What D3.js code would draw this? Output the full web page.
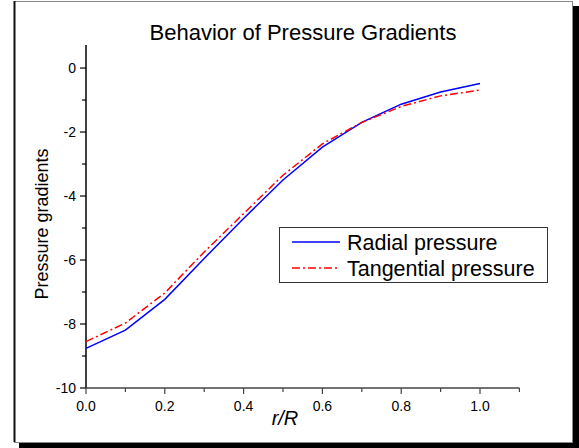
<!DOCTYPE html>
<html><head><meta charset="utf-8">
<script src="https://cdn.jsdelivr.net/npm/d3@7"></script>
<style>body{margin:0;background:#fff}svg{display:block;font-family:Arial,"Liberation Sans",sans-serif}</style>
</head><body><svg id="c" width="579" height="448"></svg>
<script>
const rValues = [0,0.1,0.2,0.3,0.4,0.5,0.6,0.7,0.8,0.9,1.0];
const radial = [-8.76,-8.19,-7.23,-5.95,-4.7,-3.5,-2.47,-1.7,-1.13,-0.75,-0.48];
const tangential = [-8.55,-7.97,-7.03,-5.75,-4.55,-3.35,-2.37,-1.7,-1.2,-0.87,-0.69];
const xTicks = [0,0.2,0.4,0.6,0.8,1.0];
const yTicks = [-10,-8,-6,-4,-2,0];
const title = "Behavior of Pressure Gradients";
const seriesNames = ["Radial pressure","Tangential pressure"];

const svg = d3.select("#c");
// frame with shadow
svg.append("rect").attr("x",19).attr("y",6).attr("width",560).attr("height",442).attr("fill","#000");
svg.append("rect").attr("x",14.5).attr("y",1.5).attr("width",558).attr("height",441).attr("fill","#fff").attr("stroke","#888").attr("stroke-width",1);
svg.append("line").attr("x1",14.5).attr("x2",14.5).attr("y1",1).attr("y2",442).attr("stroke","#111").attr("stroke-width",2);

const x = d3.scaleLinear().domain([0,1.1]).range([86,519.4]);
const y = d3.scaleLinear().domain([-10,0.72]).range([388,45]);

// y axis
const yAxis = svg.append("g").attr("transform","translate(86,0)");
yAxis.append("line").attr("x1",0).attr("x2",0).attr("y1",y(0.72)).attr("y2",y(-10)).attr("stroke","#000").attr("stroke-width",1.5);
d3.range(-10,1,1).forEach(v=>{
  const major = v%2===0;
  yAxis.append("line").attr("x1",major?-6:-4).attr("x2",0).attr("y1",y(v)).attr("y2",y(v)).attr("stroke","#000").attr("stroke-width",1.2);
});
yAxis.selectAll("text.t").data(yTicks).join("text").attr("x",-10).attr("y",d=>y(d)+5).attr("text-anchor","end").attr("font-size",14).text(d=>d);

// x axis
const xAxis = svg.append("g");
xAxis.append("line").attr("x1",x(0)).attr("x2",x(1.1)).attr("y1",388).attr("y2",388).attr("stroke","#444").attr("stroke-width",1.5);
d3.range(0,12,1).forEach(i=>{
  const v=i/10, major=i%2===0;
  xAxis.append("line").attr("x1",x(v)).attr("x2",x(v)).attr("y1",388).attr("y2",major?394:392).attr("stroke","#444").attr("stroke-width",1.2);
});
xAxis.selectAll("text").data(xTicks).join("text").attr("x",d=>x(d)).attr("y",411).attr("text-anchor","middle").attr("font-size",14).text(d=>d.toFixed(1));

// labels
svg.append("text").attr("x",303).attr("y",40).attr("text-anchor","middle").attr("font-size",22).text(title);
svg.append("text").attr("transform","translate(48,224) rotate(-90)").attr("text-anchor","middle").attr("font-size",18).text("Pressure gradients");
svg.append("text").attr("x",285).attr("y",425).attr("text-anchor","middle").attr("font-size",20).attr("font-style","italic").text("r/R");

// lines
const line = d3.line().x((d,i)=>x(rValues[i])).y(d=>y(d));
svg.append("path").attr("d",line(radial)).attr("fill","none").attr("stroke","#0000ff").attr("stroke-width",1.5);
svg.append("path").attr("d",line(tangential)).attr("fill","none").attr("stroke","#ff0000").attr("stroke-width",1.5).attr("stroke-dasharray","8,3,2,3");

// legend
const lg = svg.append("g");
lg.append("rect").attr("x",279.5).attr("y",227.5).attr("width",268).attr("height",55).attr("fill","#fff").attr("stroke","#333").attr("stroke-width",1);
lg.append("line").attr("x1",292).attr("x2",340).attr("y1",242).attr("y2",242).attr("stroke","#0000ff").attr("stroke-width",1.5);
lg.append("line").attr("x1",292).attr("x2",340).attr("y1",268).attr("y2",268).attr("stroke","#ff0000").attr("stroke-width",1.5).attr("stroke-dasharray","8,3,2,3");
lg.append("text").attr("x",347).attr("y",250).attr("font-size",21.5).text(seriesNames[0]);
lg.append("text").attr("x",347).attr("y",276).attr("font-size",21.5).text(seriesNames[1]);
</script></body></html>
